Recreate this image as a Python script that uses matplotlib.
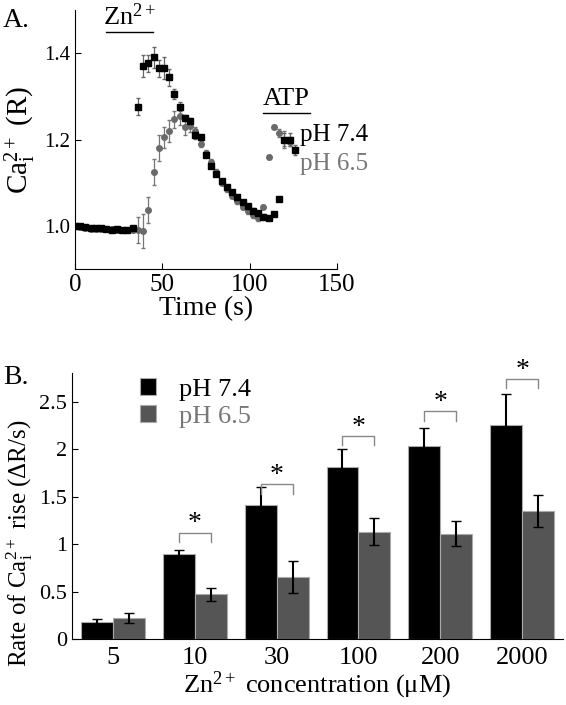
import numpy as np
import matplotlib
matplotlib.use('Agg')
import matplotlib.pyplot as plt

plt.rcParams['font.family'] = ['Liberation Serif', 'DejaVu Serif']
plt.rcParams['mathtext.fontset'] = 'custom'
plt.rcParams['mathtext.rm'] = 'Liberation Serif'
plt.rcParams['mathtext.it'] = 'Liberation Serif'

# ---- panel A : time course ----
t_74 = np.arange(0, 127, 3)
r_74 = [1.00, 1.00, 0.998, 0.996, 0.995, 0.995, 0.994, 0.992, 0.993, 0.991, 0.99, 0.995,
        1.276, 1.37, 1.376, 1.39, 1.365, 1.365, 1.344, 1.305, 1.276, 1.25, 1.243, 1.21,
        1.205, 1.165, 1.14, 1.12, 1.105, 1.09, 1.078, 1.068, 1.056, 1.046, 1.036, 1.03,
        1.022, 1.018, 1.028, 1.063, 1.20, 1.20, 1.176]
e_74 = [0.004] * 12 + [0.02, 0.025, 0.02, 0.025, 0.02, 0.025, 0.02, 0.012, 0.01, 0.008,
                       0.008, 0.008] + [0.005] * 16 + [0.015, 0.015, 0.012]

t_65 = np.arange(0, 124, 3)
r_65 = [1.0, 0.997, 0.995, 0.994, 0.993, 0.994, 0.993, 0.993, 0.992, 0.99, 0.99, 0.99,
        0.991, 0.989, 1.037, 1.126, 1.181, 1.205, 1.22, 1.247, 1.254, 1.23, 1.232, 1.22,
        1.19, 1.17, 1.148, 1.125, 1.10, 1.085, 1.07, 1.057, 1.045, 1.035, 1.025, 1.018,
        1.045, 1.16, 1.23, 1.215, 1.20, 1.195]
e_65 = [0.004] * 12 + [0.03, 0.04, 0.03, 0.03, 0.03, 0.025, 0.025, 0.02, 0.02, 0.02,
                       0.015, 0.01] + [0.006] * 12 + [0.004, 0.004, 0.004, 0.01, 0.02, 0.01]

# ---- panel B : rates ----
conc = ['5', '10', '30', '100', '200', '2000']
rate_74 = [0.18, 0.90, 1.41, 1.81, 2.03, 2.25]
err_74 = [0.03, 0.04, 0.19, 0.19, 0.19, 0.33]
rate_65 = [0.22, 0.47, 0.65, 1.13, 1.11, 1.35]
err_65 = [0.05, 0.07, 0.17, 0.14, 0.13, 0.17]
bracket = [None, 1.12, 1.63, 2.14, 2.40, 2.74]   # height of significance brackets

fig = plt.figure(figsize=(5.66, 7.05), dpi=100)

axA = fig.add_axes([0.1325, 0.618, 0.4625, 0.368])
axA.errorbar(t_65, r_65, yerr=e_65, fmt='o', color='#6a6a6a', ms=4, ecolor='#777777',
             elinewidth=0.9, capsize=1.5, zorder=2)
axA.errorbar(t_74, r_74, yerr=e_74, fmt='s', color='black', ms=5, ecolor='#666666',
             elinewidth=0.9, capsize=1.5, zorder=3)
axA.set_xlim(0, 150)
axA.set_ylim(0.9, 1.5)
axA.set_xticks([0, 50, 100, 150])
axA.set_yticks([1.0, 1.2, 1.4])
axA.set_yticklabels(['1.0', '1.2', '1.4'])
axA.tick_params(axis='y', direction='in', length=4, labelsize=15)
axA.tick_params(axis='x', direction='in', length=4, labelsize=18)
for s in ['top', 'right']:
    axA.spines[s].set_visible(False)
axA.set_xlabel('Time (s)', fontsize=20, labelpad=0)
axA.set_ylabel(r'Ca$^{2+}_{\rm i}$ (R)', fontsize=21, labelpad=4)
axA.plot([18, 44.5], [1.449, 1.449], color='black', lw=1, clip_on=False)
axA.text(31, 1.453, r'Zn$^{2+}$', fontsize=19, ha='center', va='bottom')
axA.plot([107.5, 134.5], [1.262, 1.262], color='black', lw=1, clip_on=False)
axA.text(121, 1.268, 'ATP', fontsize=19, ha='center', va='bottom')
axA.text(129, 1.21, 'pH 7.4', fontsize=18, va='center', color='black')
axA.text(129, 1.143, 'pH 6.5', fontsize=18, va='center', color='#777777')
fig.text(0.005, 0.962, 'A.', fontsize=20)

axB = fig.add_axes([0.127, 0.0936, 0.868, 0.377])
x = np.arange(len(conc))
w = 0.39
axB.bar(x - w / 2, rate_74, w, color='black', edgecolor='#aaaaaa', lw=0.8, label='pH 7.4')
axB.bar(x + w / 2, rate_65, w, color='#555555', edgecolor='#aaaaaa', lw=0.8, label='pH 6.5')
axB.errorbar(x - w / 2, rate_74, yerr=err_74, fmt='none', ecolor='black', elinewidth=1.5,
             capsize=3.5)
axB.errorbar(x + w / 2, rate_65, yerr=err_65, fmt='none', ecolor='black', elinewidth=1.5,
             capsize=3.5)
for i in range(len(conc)):
    top = bracket[i]
    if top is None:
        continue
    axB.plot([x[i] - w / 2, x[i] - w / 2, x[i] + w / 2, x[i] + w / 2],
             [top - 0.1, top, top, top - 0.1], color='#888888', lw=1, clip_on=False)
    axB.text(x[i], top - 0.04, '*', fontsize=20, ha='center', va='bottom')
axB.set_xlim(-0.5, 5.5)
axB.set_ylim(0, 2.8)
axB.set_xticks(x)
axB.set_xticklabels(conc)
axB.set_yticks([0, 0.5, 1, 1.5, 2, 2.5])
axB.set_yticklabels(['0', '0.5', '1', '1.5', '2', '2.5'])
axB.tick_params(axis='y', direction='in', length=4, labelsize=16)
axB.tick_params(axis='x', length=0, labelsize=19, pad=6)
for s in ['top', 'right']:
    axB.spines[s].set_visible(False)
axB.set_xlabel(r'Zn$^{2+}$ concentration ($\mu$M)', fontsize=19, labelpad=0)
axB.set_ylabel(r'Rate of Ca$^{2+}_{\rm i}$ rise ($\Delta$R/s)', fontsize=18)
axB.yaxis.set_label_coords(-0.075, 0.36)
leg = axB.legend(loc='upper left', bbox_to_anchor=(0.09, 1.07), frameon=False,
                 fontsize=19, handlelength=0.6, handleheight=0.6, handletextpad=0.9,
                 labelspacing=0.15)
leg.get_texts()[1].set_color('#777777')
fig.text(0.005, 0.455, 'B.', fontsize=20)

fig.savefig('out.png', dpi=100)
